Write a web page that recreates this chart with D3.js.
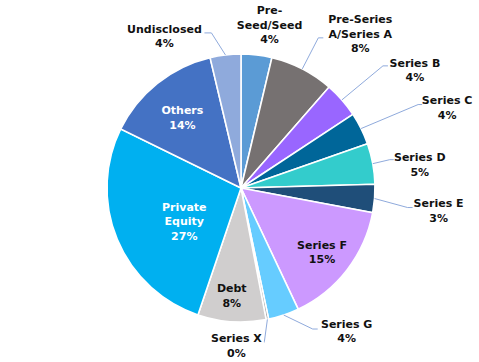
<!DOCTYPE html>
<html>
<head>
<meta charset="utf-8">
<script src="https://cdn.jsdelivr.net/npm/d3@7"></script>
<style>
  html, body { margin: 0; padding: 0; background: #fff; }
  svg text { font-family: "DejaVu Sans", sans-serif; font-weight: bold; font-size: 11px; }
</style>
</head>
<body>
<div id="chart"></div>
<script>
// funding stage shares (%), clockwise from 12 o'clock
const categories = ["Pre-Seed/Seed", "Pre-Series A/Series A", "Series B", "Series C", "Series D",
  "Series E", "Series F", "Series G", "Series X", "Debt", "Private Equity", "Others", "Undisclosed"];
const shares = [3.7, 7.7, 4.3, 3.9, 4.9, 3.4, 15.0, 3.7, 0.3, 8.2, 27.0, 14.0, 3.7];
const nameLines = [["Pre-", "Seed/Seed"], ["Pre-Series", "A/Series A"], ["Series B"], ["Series C"],
  ["Series D"], ["Series E"], ["Series F"], ["Series G"], ["Series X"], ["Debt"],
  ["Private", "Equity"], ["Others"], ["Undisclosed"]];
const colors = ["#5B9BD5", "#767171", "#9966FF", "#006699", "#33CCCC", "#1F4E79", "#CC99FF",
  "#66CCFF", "#A5A5A5", "#D0CECE", "#00B0F0", "#4472C4", "#8FAADC"];

// label placement, offsets from the slice's outer-edge midpoint
// text: block centre, elbow: leader bend, tail: leader end (null = no leader)
const labelLayout = [
  {text: [13, -30]},
  {text: [58, -35], elbow: [16, -31], tail: [21, -31]},
  {text: [73, -30], elbow: [41, -34], tail: [46, -34]},
  {text: [86, -21], elbow: [57, -24], tail: [61, -24]},
  {text: [47, 1], elbow: [17, -4], tail: [21, -4]},
  {text: [64, 12], elbow: [33, 9], tail: [38, 9]},
  {text: [-25, -18], inside: true},
  {text: [63, 16], elbow: [29, 14], tail: [34, 14]},
  {text: [-31, 26], elbow: [-3, 22], tail: [-3, 23]},
  {text: [0, -26], inside: true},
  {text: [67, -18], inside: true, light: true},
  {text: [25, 34], inside: true, light: true},
  {text: [-61, -19], elbow: [-14, -22], tail: [-21, -22]}
];

const width = 479, height = 362;
const cx = 241, cy = 188, radius = 134;
const lineH = 14.5;

const svg = d3.select("#chart").append("svg")
    .attr("width", width)
    .attr("height", height);

const g = svg.append("g")
    .attr("transform", "translate(" + cx + "," + cy + ")");

const pie = d3.pie().sort(null).value(d => d);
const arcs = pie(shares);

const arc = d3.arc().innerRadius(0).outerRadius(radius);

g.selectAll("path.slice")
  .data(arcs)
  .enter()
    .append("path")
    .attr("class", "slice")
    .attr("d", arc)
    .attr("fill", (d, i) => colors[i])
    .attr("stroke", "#fff")
    .attr("stroke-width", 1.6);

// point on the rim at the middle of a slice
function rimMid(d) {
  let a = (d.startAngle + d.endAngle) / 2;
  return [radius * Math.sin(a), -radius * Math.cos(a)];
}

arcs.forEach((d, i) => {
  let lay = labelLayout[i];
  let p = rimMid(d);

  if (lay.elbow) {
    let pts = [p,
      [p[0] + lay.elbow[0], p[1] + lay.elbow[1]],
      [p[0] + lay.tail[0], p[1] + lay.tail[1]]];
    g.append("path")
      .attr("d", d3.line()(pts))
      .attr("fill", "none")
      .attr("stroke", "#8FAADC")
      .attr("stroke-width", 1);
  }

  let lines = nameLines[i].concat([Math.round(shares[i]) + "%"]);
  let tx = p[0] + lay.text[0], ty = p[1] + lay.text[1];
  let top = ty - (lines.length - 1) * lineH / 2;

  let t = g.append("text")
    .attr("text-anchor", "middle")
    .attr("fill", lay.light ? "#fff" : "#111");
  lines.forEach((ln, k) => {
    t.append("tspan")
      .attr("x", tx)
      .attr("y", top + k * lineH + 4)
      .text(ln);
  });
});
</script>
</body>
</html>
